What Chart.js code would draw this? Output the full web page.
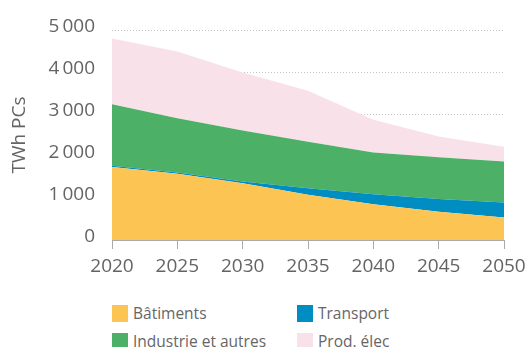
<!DOCTYPE html>
<html lang="fr">
<head>
<meta charset="utf-8">
<script src="https://cdn.jsdelivr.net/npm/chart.js@4"></script>
<style>
  html, body { margin: 0; padding: 0; background: #fff; }
  body { width: 532px; height: 347px; position: relative; overflow: hidden; font-family: "Open Sans", sans-serif; }
  #wrap { position: absolute; left: 0; top: 0; width: 532px; height: 290px; }
  #legend { position: absolute; left: 112px; top: 302px; width: 420px; }
  .item { position: absolute; display: flex; align-items: center; font-size: 15.5px; color: #666; white-space: nowrap; }
  .box { width: 16px; height: 17px; margin-right: 5px; }
</style>
</head>
<body>
<div id="wrap"><canvas id="chartEnergie"></canvas></div>
<div id="legend"></div>
<script>
// Années et séries empilées (TWh PCs)
const annees = ['2020', '2025', '2030', '2035', '2040', '2045', '2050'];
const batiments = [1740, 1575, 1350, 1075, 850, 675, 535];
const transport = [30, 30, 40, 160, 240, 300, 355];
const industrie = [1465, 1295, 1215, 1105, 995, 995, 980];
const prodElec = [1560, 1590, 1385, 1215, 780, 495, 350];

const series = [
    { label: 'Bâtiments', data: batiments, color: '#fcc453' },
    { label: 'Transport', data: transport, color: '#008dc2' },
    { label: 'Industrie et autres', data: industrie, color: '#4cb167' },
    { label: 'Prod. élec', data: prodElec, color: '#f9e1ea' }
];

const gris = '#646464';

function formatMilliers(v) {
    return String(v).replace(/\B(?=(\d{3})+(?!\d))/g, '\u2009');
}

const ctx = document.getElementById('chartEnergie').getContext('2d');
const chartEnergie = new Chart(ctx, {
    type: 'line',
    data: {
        labels: annees,
        datasets: series.map((s, i) => ({
            label: s.label,
            data: s.data,
            backgroundColor: s.color,
            borderColor: s.color,
            borderWidth: 0,
            pointRadius: 0,
            tension: 0,
            fill: i === 0 ? 'origin' : '-1'
        }))
    },
    options: {
        responsive: true,
        maintainAspectRatio: false,
        animation: false,
        layout: { padding: { top: 30, right: 28, left: 0, bottom: 0 } },
        plugins: { legend: { display: false }, tooltip: { enabled: false } },
        scales: {
            x: {
                grid: { display: true, drawOnChartArea: false, drawTicks: true, tickLength: 9, color: '#aaa' },
                border: { display: true, color: '#aaa' },
                ticks: { color: gris, font: { family: 'Open Sans', size: 19 }, padding: 6, maxRotation: 0 },
                afterFit: scale => { scale.height = 50; }
            },
            y: {
                stacked: true,
                min: 0,
                max: 5000,
                grid: {
                    drawTicks: false,
                    color: c => c.tick.value === 0 ? 'transparent' : '#c4c4c4'
                },
                border: { display: false, dash: [1, 2] },
                ticks: {
                    stepSize: 1000,
                    color: gris,
                    padding: 17,
                    labelOffset: -3,
                    font: { family: 'Open Sans', size: 19 },
                    callback: v => formatMilliers(v)
                },
                title: {
                    display: true,
                    text: 'TWh PCs',
                    color: gris,
                    padding: { top: 8, bottom: 0 },
                    font: { family: 'Open Sans', size: 19 }
                },
                afterFit: scale => { scale.width = 112; }
            }
        }
    }
});

// Légende sur deux colonnes, construite à partir des séries
const positions = [[0, 0], [185, 0], [0, 28], [185, 28]];
document.getElementById('legend').innerHTML = series.map((s, i) =>
    `<div class="item" style="left:${positions[i][0]}px;top:${positions[i][1]}px">
        <span class="box" style="background:${s.color}"></span>${s.label}
    </div>`
).join('');
</script>
</body>
</html>
